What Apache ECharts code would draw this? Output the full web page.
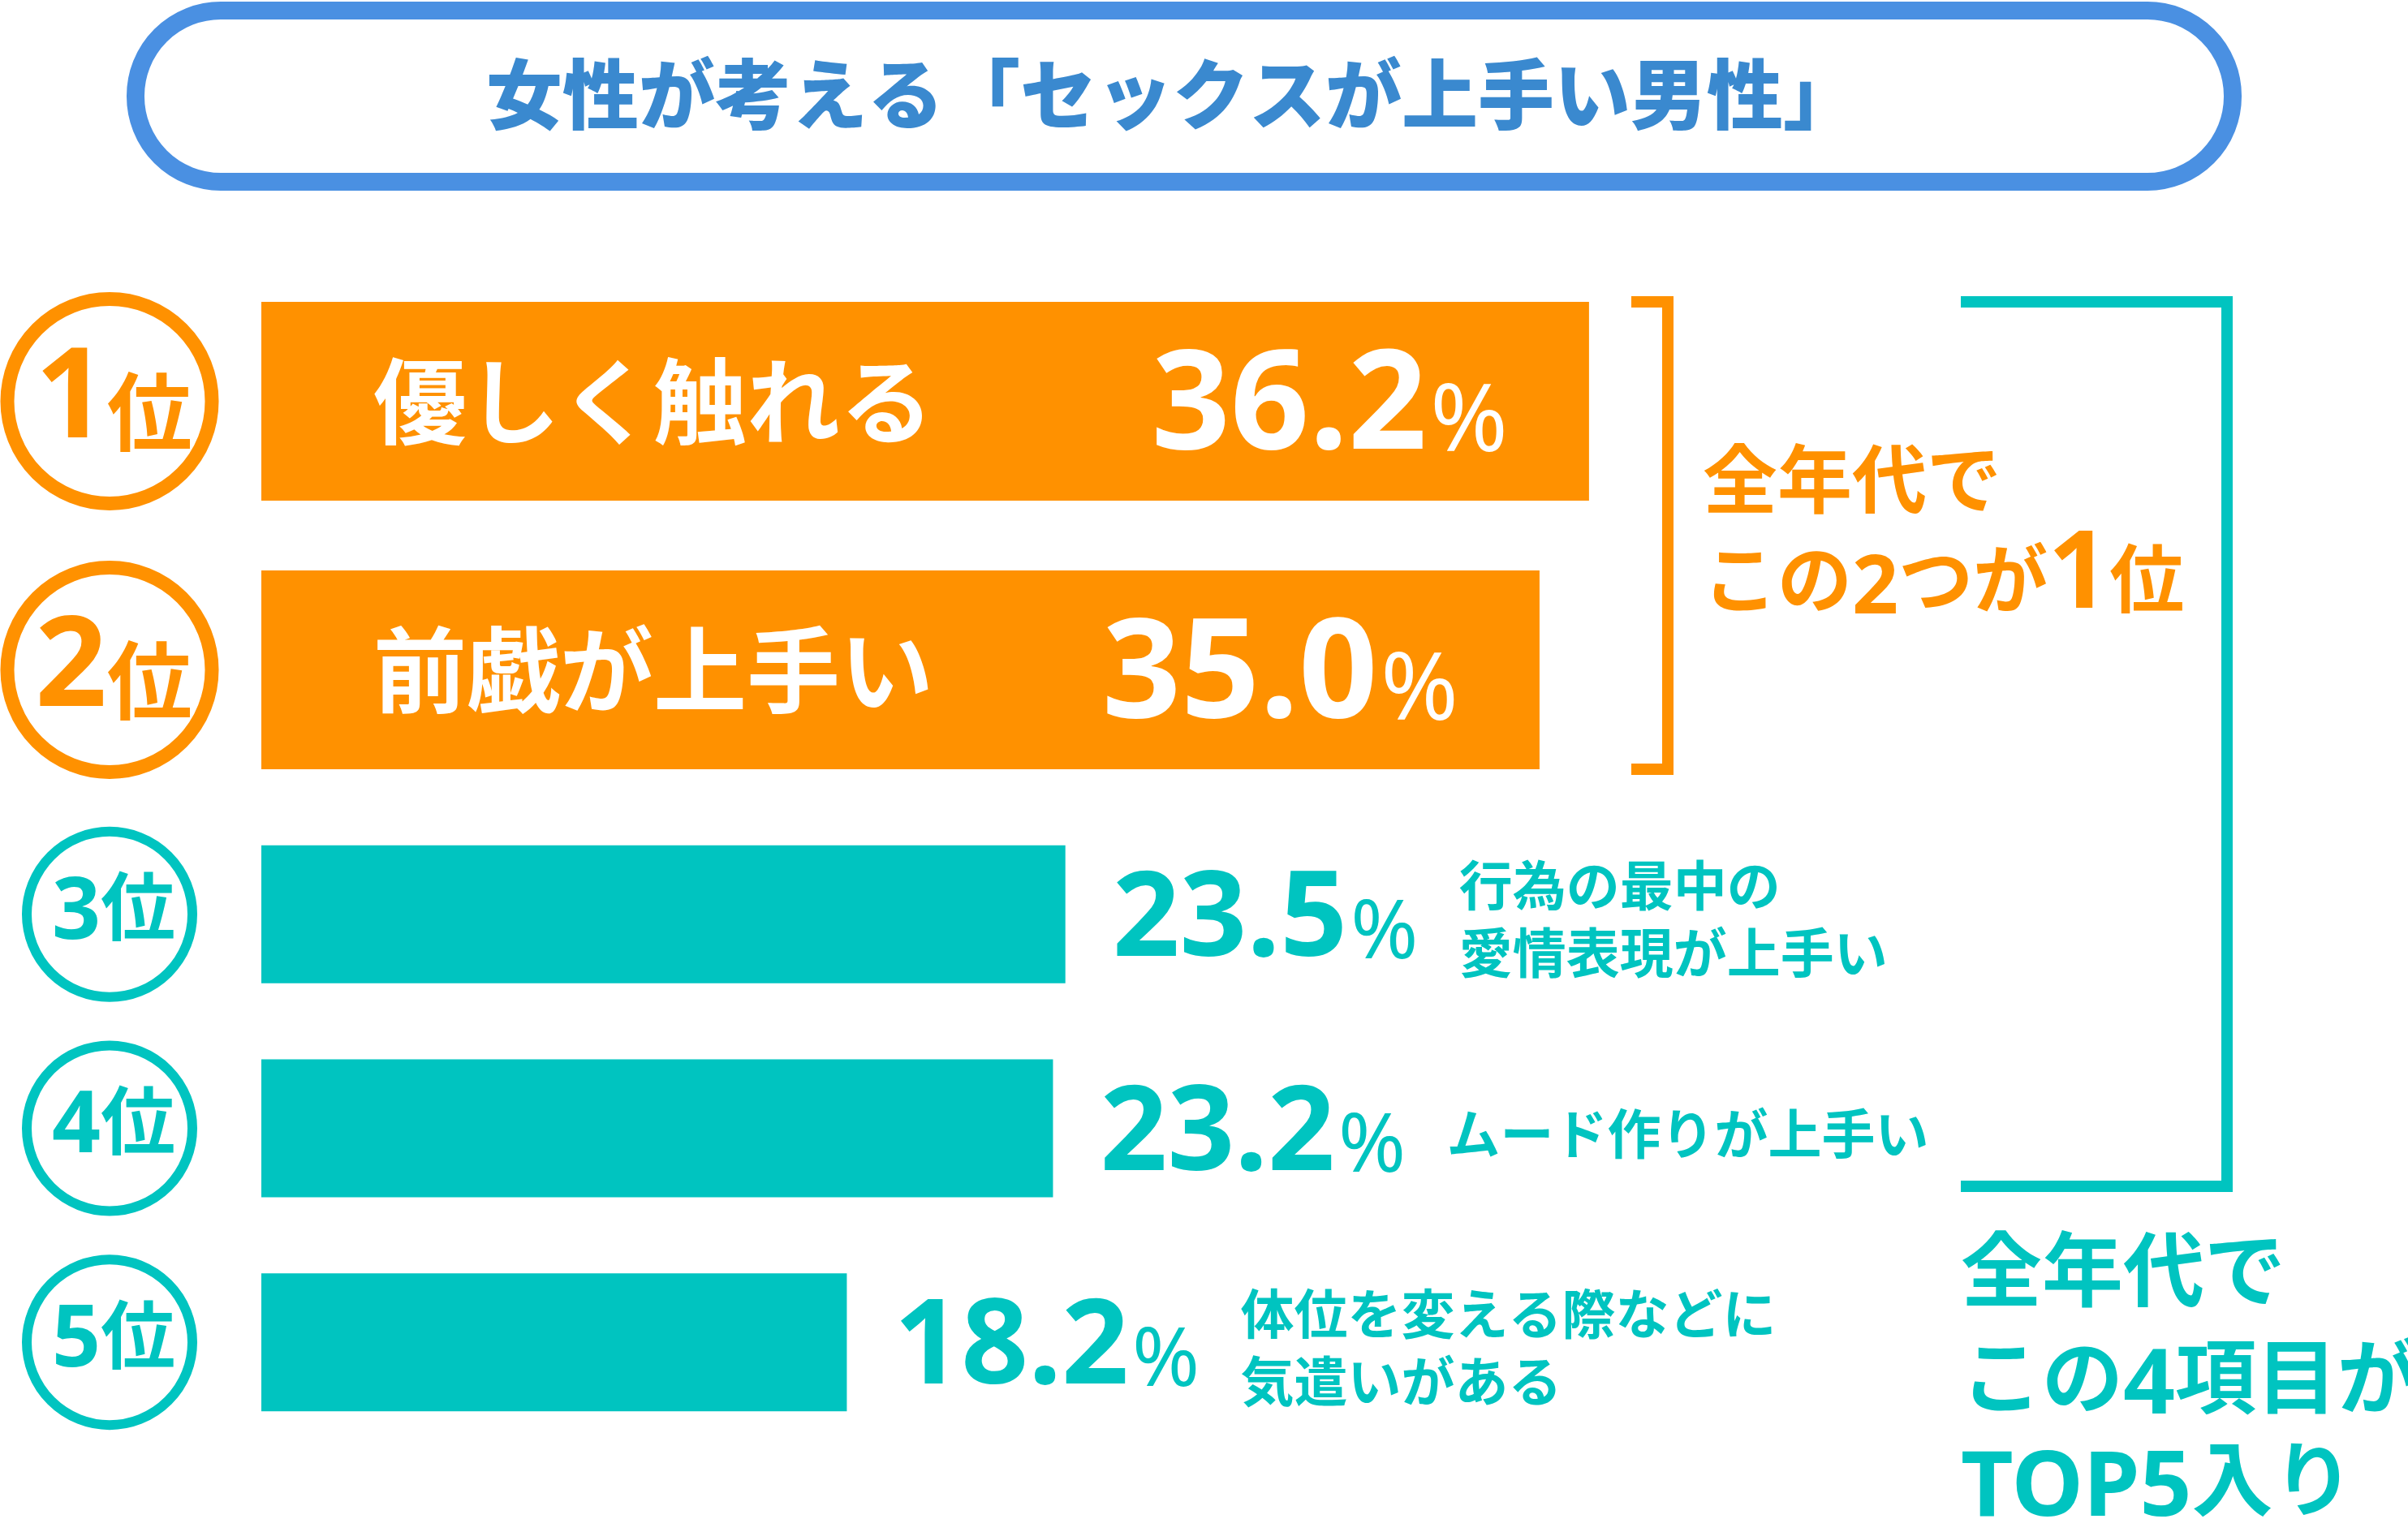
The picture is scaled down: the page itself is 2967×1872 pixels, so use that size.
<!DOCTYPE html>
<html lang="ja">
<head>
<meta charset="UTF-8">
<title>女性が考える「セックスが上手い男性」</title>
<style>
    html, body { margin: 0; padding: 0; background: #fff; }
    #chart { width: 2967px; height: 1872px; }
</style>
</head>
<body>
<div id="chart"></div>
<script src="https://cdn.jsdelivr.net/npm/echarts@6.0.0/dist/echarts.min.js"></script>
<script>
    // data
    const titleText = '女性が考える「セックスが上手い男性」';
    const topItems = ['優しく触れる', '前戯が上手い'];
    const topValues = [36.2, 35.0];
    const topRanks = ['1', '2'];
    const restItems = ['行為の最中の\n愛情表現が上手い', 'ムード作りが上手い', '体位を変える際などに\n気遣いがある'];
    const restValues = [23.5, 23.2, 18.2];
    const restRanks = ['3', '4', '5'];
    const topNote = ['全年代で', 'この2つが1位'];
    const restNote = ['全年代で', 'この4項目が', 'TOP5入り'];

    const ORANGE = '#ff9100';
    const TEAL = '#00c4c0';
    const BLUE = '#4a90e2';
    const TITLE_BLUE = '#3a89cf';
    const JP = '"Noto Sans CJK JP", sans-serif';
    const NUM = '"Noto Sans", sans-serif';

    const chart = echarts.init(document.getElementById('chart'));

    function valueLabel(numSize, pctSize) {
        return {
            offset: [0, 10],
            formatter: p => '{v|' + p.value.toFixed(1) + '}{p|%}',
            rich: {
                v: { fontFamily: NUM, fontWeight: 'bold', fontSize: numSize, lineHeight: numSize, verticalAlign: 'bottom' },
                p: { fontFamily: NUM, fontWeight: 'normal', fontSize: pctSize, lineHeight: pctSize, verticalAlign: 'bottom', padding: [0, 0, Math.round(numSize * 0.05), 4] }
            }
        };
    }

    const xAxisBase = { type: 'value', min: 4, max: 50, show: false, splitLine: { show: false } };

    chart.setOption({
        animation: false,
        backgroundColor: '#fff',
        grid: [
            { left: 322, width: 2337, top: 329, height: 662 },
            { left: 322, width: 2337, top: 995, height: 791 }
        ],
        xAxis: [
            Object.assign({ gridIndex: 0 }, xAxisBase),
            Object.assign({ gridIndex: 1 }, xAxisBase)
        ],
        yAxis: [
            { type: 'category', gridIndex: 0, data: topItems, inverse: true, show: false },
            { type: 'category', gridIndex: 1, data: restItems, inverse: true, show: false }
        ],
        series: [
            {
                type: 'bar', xAxisIndex: 0, yAxisIndex: 0, data: topValues,
                barWidth: 245, barGap: '-100%', itemStyle: { color: ORANGE },
                label: {
                    show: true, position: 'insideLeft', distance: 138,
                    formatter: p => p.name,
                    color: '#fff', fontFamily: JP, fontWeight: 'bold', fontSize: 115
                }
            },
            {
                type: 'bar', xAxisIndex: 0, yAxisIndex: 0, data: topValues, silent: true,
                barWidth: 245, barGap: '-100%', itemStyle: { color: 'rgba(0,0,0,0)' },
                label: Object.assign({ show: true, position: 'insideRight', distance: 100, color: '#fff' }, valueLabel(170, 115))
            },
            {
                type: 'bar', xAxisIndex: 1, yAxisIndex: 1, data: restValues,
                barWidth: 170, barGap: '-100%', itemStyle: { color: TEAL },
                label: Object.assign({ show: true, position: 'right', distance: 58, color: TEAL }, valueLabel(145, 100))
            },
            {
                type: 'bar', xAxisIndex: 1, yAxisIndex: 1, data: restValues, silent: true,
                barWidth: 170, barGap: '-100%', itemStyle: { color: 'rgba(0,0,0,0)' },
                label: {
                    show: true, position: 'right', distance: 485, offset: [0, 6],
                    formatter: p => p.name,
                    color: TEAL, fontFamily: JP, fontWeight: 'bold', fontSize: 66, lineHeight: 83
                }
            }
        ]
    });

    // rank circles on the left, placed on the category positions
    function rankMarks(ranks, items, axisIndex, color, r, lw, numSize, kanjiSize, lift) {
        const out = [];
        ranks.forEach((rank, i) => {
            const y = chart.convertToPixel({ yAxisIndex: axisIndex }, items[i]);
            out.push({
                type: 'circle', shape: { cx: 135, cy: y, r: r },
                style: { fill: '#fff', stroke: color, lineWidth: lw }
            });
            out.push({
                type: 'text', x: 140, y: y,
                style: {
                    text: '{n|' + rank + '}{k|位}', align: 'center', verticalAlign: 'middle', fill: color,
                    rich: {
                        n: { fontFamily: NUM, fontWeight: 'bold', fontSize: numSize, lineHeight: numSize, fill: color, verticalAlign: 'bottom' },
                        k: { fontFamily: JP, fontWeight: 'bold', fontSize: kanjiSize, lineHeight: kanjiSize, fill: color, verticalAlign: 'bottom', padding: [0, 0, lift, 0] }
                    }
                }
            });
        });
        return out;
    }

    function noteLines(lines, x, y0, step, color, jpSize, numSize, bigSize) {
        const lift = Math.round(jpSize * 0.2);
        return lines.map((line, i) => {
            const rich = line.replace(/([A-Z0-9]+)/g, m => '}{' + (m === '1' && bigSize ? 'b' : 'n') + '|' + m + '}{a|');
            return {
                type: 'text', x: x, y: y0 + i * step,
                style: {
                    text: '{a|' + rich + '}', align: 'left', verticalAlign: 'middle', fill: color,
                    rich: {
                        a: { fontFamily: JP, fontWeight: 'bold', fontSize: jpSize, lineHeight: jpSize, fill: color, verticalAlign: 'bottom', padding: [0, 0, lift, 0] },
                        n: { fontFamily: NUM, fontWeight: 'bold', fontSize: numSize, lineHeight: numSize, fill: color, verticalAlign: 'bottom' },
                        b: { fontFamily: NUM, fontWeight: 'bold', fontSize: bigSize || numSize, lineHeight: bigSize || numSize, fill: color, verticalAlign: 'bottom' }
                    }
                }
            };
        });
    }

    const graphics = [
        {
            type: 'rect', shape: { x: 167, y: 13, width: 2584, height: 211, r: 105 },
            style: { fill: '#fff', stroke: BLUE, lineWidth: 22 }
        },
        {
            type: 'text', x: 1445, y: 116,
            style: { text: titleText, align: 'center', verticalAlign: 'middle', fill: TITLE_BLUE, font: '900 94px ' + JP }
        },
        {
            type: 'polyline', shape: { points: [[2010, 372], [2055, 372], [2055, 948], [2010, 948]] },
            style: { stroke: ORANGE, lineWidth: 14, fill: null, lineJoin: 'miter', lineCap: 'butt' }
        },
        {
            type: 'polyline', shape: { points: [[2416, 372], [2744, 372], [2744, 1462], [2416, 1462]] },
            style: { stroke: TEAL, lineWidth: 14, fill: null, lineJoin: 'miter', lineCap: 'butt' }
        }
    ]
        .concat(rankMarks(topRanks, topItems, 0, ORANGE, 126, 17, 155, 105, 12))
        .concat(rankMarks(restRanks, restItems, 1, TEAL, 102, 12, 105, 92, 16))
        .concat(noteLines(topNote, 2098, 608, 103, ORANGE, 92, 100, 133))
        .concat(noteLines(restNote, 2416, 1584, 126, TEAL, 100, 112, 0));

    chart.setOption({ graphic: graphics });

    window.onresize = function () {
        chart.resize();
    };
</script>
</body>
</html>
